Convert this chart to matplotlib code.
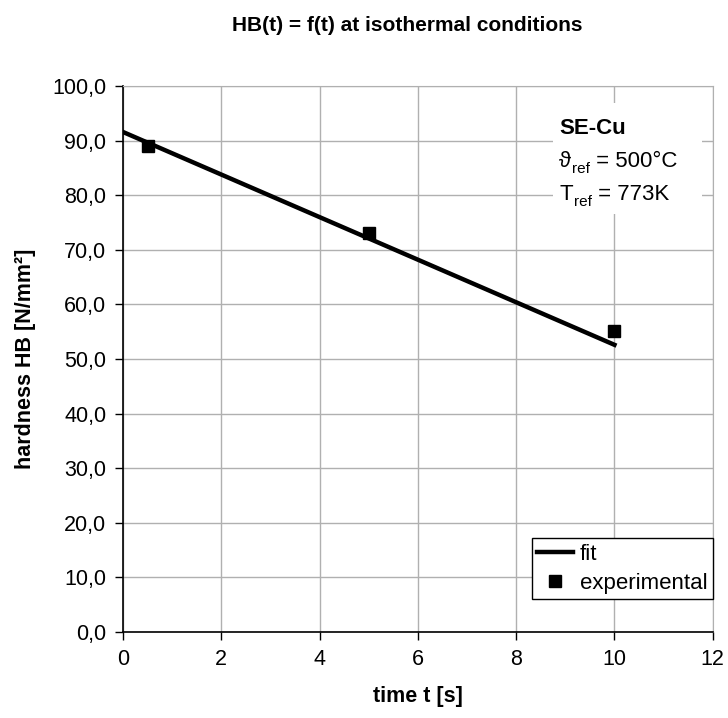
import matplotlib
matplotlib.use("Agg")
import matplotlib.pyplot as plt
from matplotlib.patches import Rectangle

plt.rcParams['font.family'] = ['Liberation Sans', 'DejaVu Sans']

# data
t_exp = [0.5, 5.0, 10.0]
hb_exp = [89.0, 73.0, 55.1]
t_fit = [0.0, 10.0]
hb_fit = [91.6, 52.6]
x_ticks = [0, 2, 4, 6, 8, 10, 12]
y_ticks = [0, 10, 20, 30, 40, 50, 60, 70, 80, 90, 100]

fig = plt.figure(figsize=(7.28, 7.18), dpi=100)
ax = fig.add_axes([0.169, 0.120, 0.810, 0.760])

ax.plot(t_fit, hb_fit, color='black', lw=3.2, label='fit', zorder=3)
ax.plot(t_exp, hb_exp, ls='none', marker='s', ms=9, color='black', label='experimental', zorder=4)

ax.set_xlim(0, 12)
ax.set_ylim(0, 100)
ax.set_xticks(x_ticks)
ax.set_yticks(y_ticks)
ax.set_xticklabels([str(v) for v in x_ticks])
ax.set_yticklabels([f"{v:.1f}".replace('.', ',') for v in y_ticks])
ax.tick_params(labelsize=15.5, direction='out', length=6, width=1, color='black', pad=6)
ax.grid(True, color='#b0b0b0', lw=1)
ax.set_axisbelow(True)
for s in ['top', 'right']:
    ax.spines[s].set_color('#b0b0b0')
for s in ['left', 'bottom']:
    ax.spines[s].set_color('black')
    ax.spines[s].set_linewidth(1.2)

ax.set_xlabel('time t [s]', fontsize=15.5, fontweight='bold', labelpad=12)
ax.set_ylabel('hardness HB [N/mm²]', fontsize=15.5, fontweight='bold', labelpad=12)
fig.text(0.56, 0.965, 'HB(t) = f(t) at isothermal conditions', ha='center', va='center',
         fontsize=15, fontweight='bold')

# annotation with white background
ax.add_patch(Rectangle((0.729, 0.765), 0.252, 0.205, transform=ax.transAxes,
                       facecolor='white', edgecolor='none', zorder=2))
fam = ['Liberation Sans', 'DejaVu Sans']
x0 = 0.740
ax.text(x0, 0.922, 'SE-Cu', transform=ax.transAxes, fontsize=16, fontweight='bold',
        va='center', ha='left', zorder=5, family=fam)

t1 = ax.text(x0, 0.862, 'ϑ', transform=ax.transAxes, fontsize=16, va='center', ha='left',
             zorder=5, family=fam)
s1 = ax.annotate('ref', xy=(1, 0), xycoords=t1, xytext=(0.5, -3), textcoords='offset points',
                 fontsize=11, va='bottom', ha='left', zorder=5, family=fam)
ax.annotate(' = 500°C', xy=(1, 0), xycoords=s1, xytext=(0, 3), textcoords='offset points',
            fontsize=16, va='bottom', ha='left', zorder=5, family=fam)

t2 = ax.text(x0, 0.802, 'T', transform=ax.transAxes, fontsize=16, va='center', ha='left',
             zorder=5, family=fam)
s2 = ax.annotate('ref', xy=(1, 0), xycoords=t2, xytext=(0.5, -3), textcoords='offset points',
                 fontsize=11, va='bottom', ha='left', zorder=5, family=fam)
ax.annotate(' = 773K', xy=(1, 0), xycoords=s2, xytext=(0, 3), textcoords='offset points',
            fontsize=16, va='bottom', ha='left', zorder=5, family=fam)

leg = ax.legend(loc='lower right', bbox_to_anchor=(1.0, 0.06), fontsize=16, frameon=True,
                fancybox=False, edgecolor='black', framealpha=1, handlelength=1.6,
                handletextpad=0.3, borderpad=0.25, borderaxespad=0.0, labelspacing=0.35)
leg.get_frame().set_linewidth(1)

fig.savefig('out.png', dpi=100, facecolor='white')
